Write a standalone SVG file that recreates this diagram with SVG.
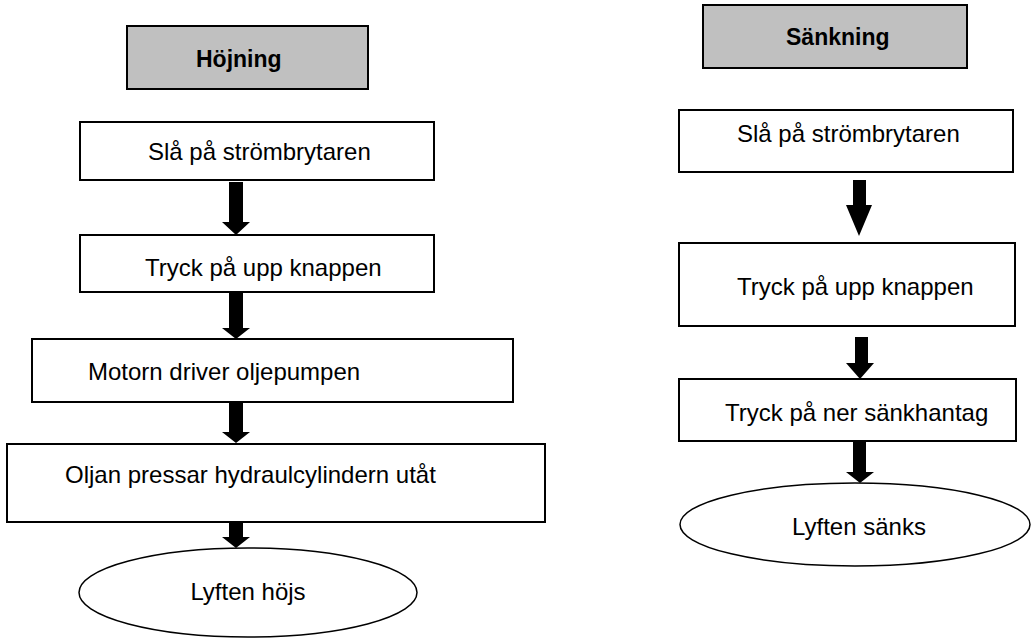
<svg xmlns="http://www.w3.org/2000/svg" width="1031" height="639" viewBox="0 0 1031 639">
<style>
.box{fill:#fff;stroke:#000;stroke-width:2}
.hdr{fill:#c0c0c0;stroke:#000;stroke-width:2}
.ell{fill:#fff;stroke:#000;stroke-width:1.5}
.t{font-family:"Liberation Sans",Arial,sans-serif;font-size:24px;fill:#000}
.b{font-family:"Liberation Sans",Arial,sans-serif;font-size:23px;font-weight:bold;fill:#000}
.arr{fill:#000}
</style>
<rect width="1031" height="639" fill="#fff"/>
<g id="connectors">
<polygon class="arr" points="229,182 243,182 243,222 250,222 236,235 222,222 229,222"/>
<polygon class="arr" points="229,293 243,293 243,328 250,328 236,339 222,328 229,328"/>
<polygon class="arr" points="229,403 243,403 243,432 250,432 236,443 222,432 229,432"/>
<polygon class="arr" points="229,523 243,523 243,537 250,537 236,548 222,537 229,537"/>
<polygon class="arr" points="853,180 866,180 866,205 872,205 859,236 846,205 853,205"/>
<polygon class="arr" points="855,337 868,337 868,363 874,363 860,379 846,363 855,363"/>
<polygon class="arr" points="853,441 866,441 866,472 874,472 860,483 846,472 853,472"/>
</g>
<g id="hojning">
<rect class="hdr" x="127" y="26" width="241" height="63"/>
<text class="b" x="196" y="67">Höjning</text>
</g>
<g id="l1">
<rect class="box" x="80" y="122" width="354" height="58"/>
<text class="t" x="148" y="160">Slå på strömbrytaren</text>
</g>
<g id="l2">
<rect class="box" x="80" y="235" width="354" height="57"/>
<text class="t" x="145" y="276">Tryck på upp knappen</text>
</g>
<g id="l3">
<rect class="box" x="32" y="339" width="481" height="63"/>
<text class="t" x="88" y="380">Motorn driver oljepumpen</text>
</g>
<g id="l4">
<rect class="box" x="7" y="444" width="538" height="78"/>
<text class="t" x="65" y="483">Oljan pressar hydraulcylindern utåt</text>
</g>
<g id="l5">
<ellipse class="ell" cx="248" cy="592.5" rx="169" ry="44.5"/>
<text class="t" x="248" y="600" text-anchor="middle">Lyften höjs</text>
</g>
<g id="sankning">
<rect class="hdr" x="703" y="5" width="264" height="63"/>
<text class="b" x="786" y="45">Sänkning</text>
</g>
<g id="r1">
<rect class="box" x="679" y="110" width="334" height="62"/>
<text class="t" x="737" y="142">Slå på strömbrytaren</text>
</g>
<g id="r2">
<rect class="box" x="679" y="243" width="336" height="83"/>
<text class="t" x="737" y="295">Tryck på upp knappen</text>
</g>
<g id="r3">
<rect class="box" x="679" y="379" width="337" height="62"/>
<text class="t" x="725" y="421">Tryck på ner sänkhantag</text>
</g>
<g id="r4">
<ellipse class="ell" cx="855" cy="524.5" rx="175" ry="41.5"/>
<text class="t" x="859" y="535" text-anchor="middle">Lyften sänks</text>
</g>
</svg>
